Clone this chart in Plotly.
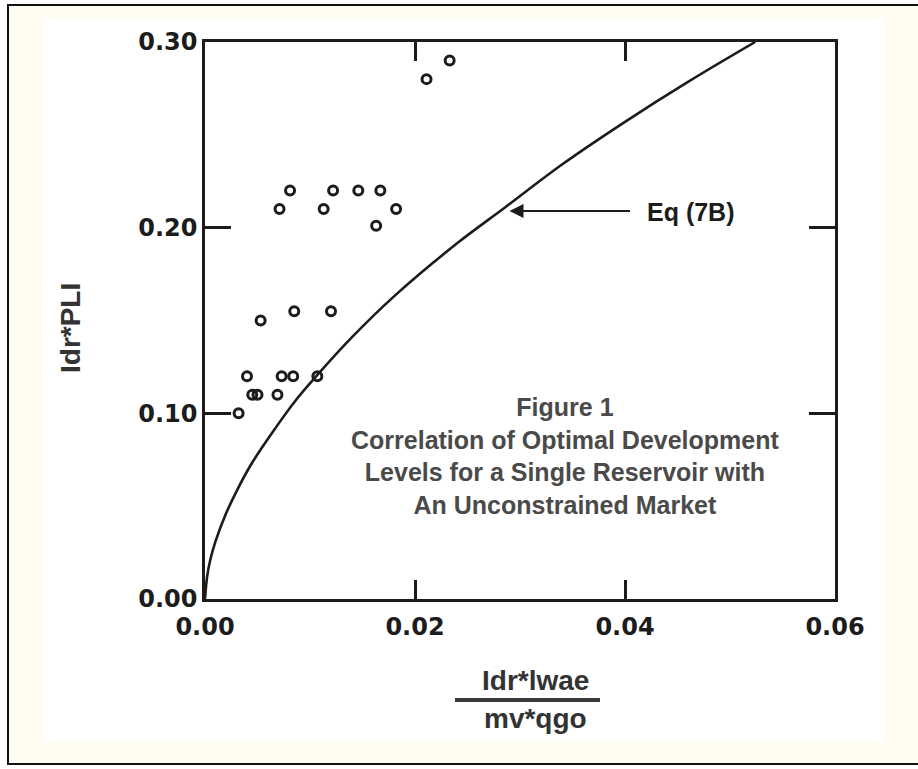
import plotly.graph_objects as go

# ---- data ----
obs_x = [0.0081, 0.0122, 0.0146, 0.0167, 0.0071, 0.0113, 0.0182, 0.0163,
         0.0085, 0.0120, 0.0053, 0.0040, 0.0073, 0.0084, 0.0107,
         0.0045, 0.0050, 0.0069, 0.0032, 0.0211, 0.0233]
obs_y = [0.220, 0.220, 0.220, 0.220, 0.210, 0.210, 0.210, 0.201,
         0.155, 0.155, 0.150, 0.120, 0.120, 0.120, 0.120,
         0.110, 0.110, 0.110, 0.100, 0.280, 0.290]

eq_x = [0, 0.0002, 0.0005, 0.001, 0.002, 0.003, 0.0045, 0.0067, 0.0085, 0.0106,
        0.014, 0.018, 0.0241, 0.0286, 0.034, 0.040, 0.046, 0.0524]
eq_y = [0, 0.012, 0.021, 0.031, 0.046, 0.058, 0.0735, 0.092, 0.106, 0.120,
        0.141, 0.163, 0.192, 0.211, 0.234, 0.257, 0.2785, 0.300]

x_ticks = [0, 0.02, 0.04, 0.06]
x_tick_text = ["0.00", "0.02", "0.04", "0.06"]
y_ticks = [0, 0.10, 0.20, 0.30]
y_tick_text = ["0.00", "0.10", "0.20", "0.30"]

W, H = 918, 769
L, R, T, B = 205, 83, 42, 170
PW, PH = W - L - R, H - T - B


def fx(px):
    return (px - L) / PW


def fy(py):
    return (H - B - py) / PH


FONT = "Liberation Sans, Arial, sans-serif"
TICKFONT = "DejaVu Sans, Verdana, sans-serif"
INK = "#1c1c1c"

fig = go.Figure()
fig.add_trace(go.Scatter(
    x=eq_x, y=eq_y, mode="lines", line=dict(color=INK, width=2.6, shape="spline", smoothing=1),
    hoverinfo="skip", showlegend=False))
fig.add_trace(go.Scatter(
    x=obs_x, y=obs_y, mode="markers",
    marker=dict(symbol="circle-open", size=9, color=INK, line=dict(width=3, color=INK)),
    showlegend=False))

shapes = [
    dict(type="rect", xref="paper", yref="paper", x0=fx(8), x1=fx(921), y0=fy(764), y1=fy(5),
         fillcolor="#FFFDF1", line=dict(color="#111111", width=2), layer="below"),
    dict(type="rect", xref="paper", yref="paper", x0=fx(42), x1=fx(886), y0=fy(742), y1=fy(18),
         fillcolor="#FFFFFF", line=dict(width=0), layer="below"),
    dict(type="line", xref="paper", yref="paper", x0=fx(455), x1=fx(600), y0=fy(700), y1=fy(700),
         line=dict(color="#3a3a3a", width=4)),
]


def note(px, py, text, size, color, **kw):
    return dict(xref="paper", yref="paper", x=fx(px), y=fy(py), showarrow=False,
                xanchor="center", yanchor="middle", text=text,
                font=dict(family=FONT, size=size, color=color, weight="bold"), **kw)


annotations = [
    note(565, 456, "Figure 1<br>Correlation of Optimal Development<br>Levels for a Single Reservoir with<br>An Unconstrained Market",
         25, "#4a4a4a", align="center"),
    note(691, 212, "Eq (7B)", 25, INK),
    dict(x=0.0290, y=0.209, xref="x", yref="y", text="", showarrow=True,
         ax=122, ay=0, arrowhead=2, arrowsize=1.4, arrowwidth=2, arrowcolor=INK),
    note(70, 328, "Idr*PLI", 28, "#333333", textangle=-90),
    note(535, 680, "Idr*lwae", 28, "#333333"),
    note(535, 718, "mv*qgo", 28, "#333333"),
]

axis_common = dict(showline=True, mirror="ticks", linecolor=INK, linewidth=2.5,
                   ticks="inside", tickcolor=INK, tickwidth=2.5, showgrid=False,
                   zeroline=False,
                   tickfont=dict(family=TICKFONT, size=24, color=INK, weight="bold"))

fig.update_layout(
    width=W, height=H, margin=dict(l=L, r=R, t=T, b=B),
    paper_bgcolor="#FFFFFF", plot_bgcolor="#FFFFFF",
    shapes=shapes, annotations=annotations,
    xaxis=dict(range=[0, 0.06], tickvals=x_ticks, ticktext=x_tick_text, ticklen=19,
               ticklabelstandoff=4, **axis_common),
    yaxis=dict(range=[0, 0.30], tickvals=y_ticks, ticktext=y_tick_text, ticklen=26, **axis_common),
)

fig.write_html("out.html", config={"displayModeBar": False},
               post_script="document.body.style.margin='0';")
